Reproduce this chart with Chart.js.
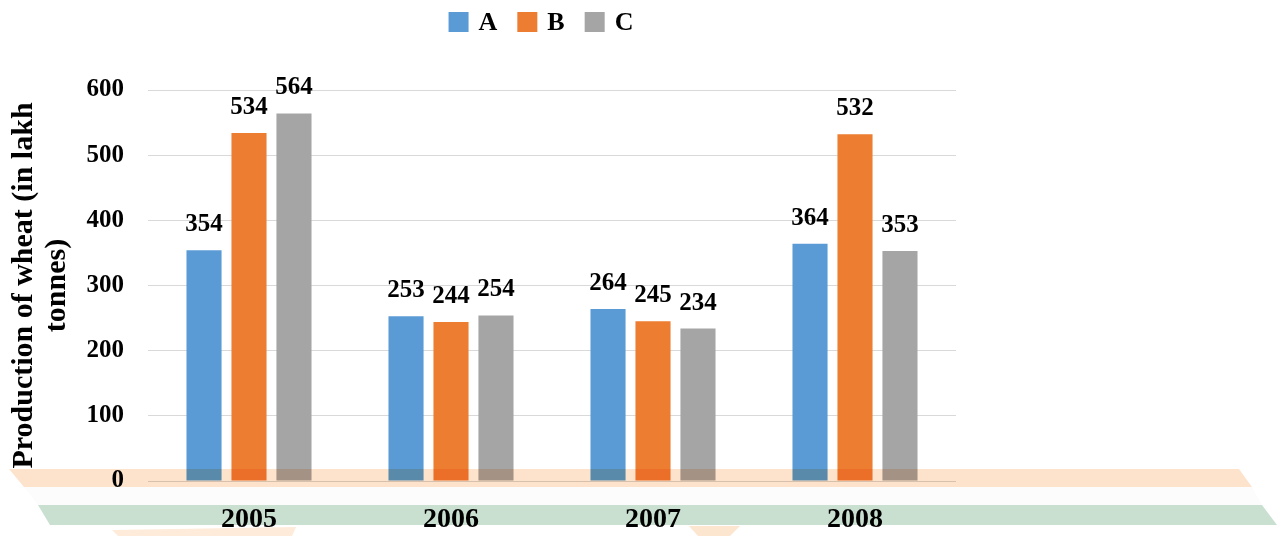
<!DOCTYPE html>
<html>
<head>
<meta charset="utf-8">
<script src="https://cdn.jsdelivr.net/npm/chart.js@4.4.0/dist/chart.umd.min.js"></script>
<style>
  body { margin: 0; background: #fff; }
  #wrap { width: 1277px; height: 536px; }
</style>
</head>
<body>
<div id="wrap"><canvas id="wheat" width="1277" height="536"></canvas></div>
<script>
(function() {
    const years = ['2005', '2006', '2007', '2008'];
    const seriesA = [354, 253, 264, 364];
    const seriesB = [534, 244, 245, 532];
    const seriesC = [564, 254, 234, 353];
    const yTicks = [0, 100, 200, 300, 400, 500, 600];

    const serif = "'Liberation Serif', 'Times New Roman', serif";

    // decorative stripes drawn over the lower part of the picture
    const stripes = {
        id: 'stripes',
        afterDatasetsDraw(chart) {
            const ctx = chart.ctx;
            ctx.save();
            ctx.globalCompositeOperation = 'multiply';
            const poly = (pts, color) => {
                ctx.beginPath();
                ctx.moveTo(pts[0][0], pts[0][1]);
                pts.slice(1).forEach(p => ctx.lineTo(p[0], p[1]));
                ctx.closePath();
                ctx.fillStyle = color;
                ctx.fill();
            };
            poly([[9, 469], [1239, 469], [1252, 487], [24, 487]], '#fde3cc');
            poly([[24, 487], [1252, 487], [1262, 505], [38, 505]], '#fcfcfc');
            poly([[38, 505], [1262, 505], [1277, 525], [50, 525]], '#c9e0d1');
            poly([[112, 530], [296, 527], [292, 536], [118, 536]], '#feebda');
            poly([[689, 526], [740, 526], [730, 536], [698, 536]], '#fde6d0');
            ctx.restore();

            // value labels above bars
            ctx.save();
            ctx.font = 'bold 25px ' + serif;
            ctx.fillStyle = '#000';
            ctx.textAlign = 'center';
            ctx.textBaseline = 'alphabetic';
            chart.data.datasets.forEach((ds, i) => {
                chart.getDatasetMeta(i).data.forEach((bar, j) => {
                    ctx.fillText(String(ds.data[j]), bar.x, bar.y - 19);
                });
            });
            ctx.restore();
        },
        afterDraw(chart) {
            // legend at the top
            const ctx = chart.ctx;
            ctx.save();
            ctx.font = 'bold 26px ' + serif;
            ctx.textBaseline = 'middle';
            ctx.textAlign = 'left';
            const box = 20, gapText = 10, gapItem = 20;
            const items = chart.data.datasets.map(ds => ({
                label: ds.label,
                color: ds.backgroundColor,
                w: ctx.measureText(ds.label).width
            }));
            let total = 0;
            items.forEach((it, k) => {
                total += box + gapText + it.w + (k < items.length - 1 ? gapItem : 0);
            });
            const ca = chart.chartArea;
            let x = (ca.left + ca.right) / 2 - 11 - total / 2;
            const cy = 22;
            items.forEach(it => {
                ctx.fillStyle = it.color;
                ctx.fillRect(x, cy - box / 2, box, box);
                x += box + gapText;
                ctx.fillStyle = '#000';
                ctx.fillText(it.label, x, cy + 1);
                x += it.w + gapItem;
            });
            ctx.restore();
        }
    };

    new Chart(
        document.getElementById('wheat'),
        {
            type: 'bar',
            data: {
                labels: years,
                datasets: [
                    { label: 'A', data: seriesA, backgroundColor: '#5b9bd5' },
                    { label: 'B', data: seriesB, backgroundColor: '#ed7d31' },
                    { label: 'C', data: seriesC, backgroundColor: '#a5a5a5' }
                ]
            },
            options: {
                responsive: false,
                animation: false,
                categoryPercentage: 0.668,
                barPercentage: 0.78,
                layout: {
                    padding: { top: 90, right: 321, left: 0, bottom: 0 }
                },
                plugins: {
                    legend: { display: false },
                    tooltip: { enabled: false }
                },
                scales: {
                    x: {
                        grid: { display: false },
                        border: { display: false },
                        ticks: {
                            color: '#000',
                            padding: 14,
                            font: { family: serif, size: 28, weight: 'bold' }
                        },
                        afterFit(scale) { scale.height = 55; }
                    },
                    y: {
                        min: 0,
                        max: 600,
                        afterBuildTicks(scale) {
                            scale.ticks = yTicks.map(v => ({ value: v }));
                        },
                        grid: { color: '#d9d9d9', drawTicks: false },
                        border: { display: false },
                        ticks: {
                            color: '#000',
                            padding: 24,
                            font: { family: serif, size: 25, weight: 'bold' }
                        },
                        title: {
                            display: true,
                            text: ['Production of wheat (in lakh', 'tonnes)'],
                            color: '#000',
                            padding: { top: 8, bottom: 0 },
                            font: { family: serif, size: 30, weight: 'bold', lineHeight: 1.1 }
                        },
                        afterFit(scale) { scale.width = 148; }
                    }
                }
            },
            plugins: [stripes]
        }
    );
})();
</script>
</body>
</html>
